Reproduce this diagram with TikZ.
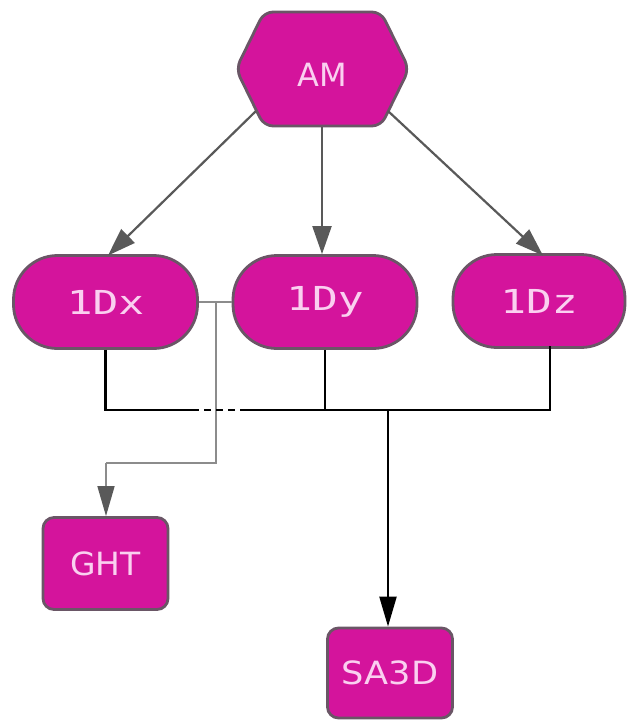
\documentclass[tikz,border=0pt]{standalone}
\usepackage{fontspec}
\setmainfont{DejaVu Sans}
\newfontfamily\monof{DejaVu Sans Mono}
\usetikzlibrary{arrows.meta}
\definecolor{mag}{HTML}{D4149C}
\definecolor{bord}{HTML}{6A5666}
\definecolor{txt}{HTML}{FAD0F0}
\definecolor{garr}{HTML}{595959}
\definecolor{gthin}{HTML}{8C8C8C}
\newcommand{\wtext}[2]{\scalebox{#1}[1]{#2}}
\begin{document}
\begin{tikzpicture}[x=1pt,y=-1pt,
  pill/.style={draw=bord,line width=2.8pt,fill=mag,rounded corners=44pt,minimum width=184pt,minimum height=93pt,inner sep=0pt,text=txt,font=\monof\fontsize{33}{38}\selectfont},
  boxnode/.style={draw=bord,line width=2.8pt,fill=mag,rounded corners=11pt,minimum width=125pt,minimum height=92pt,inner sep=0pt,text=txt,font=\fontsize{32}{38}\selectfont},
  grayarrow/.style={draw=garr,line width=2.2pt,-{Triangle[length=28pt,width=19pt]}},
  blackline/.style={draw=black,line width=2.2pt},
  thinline/.style={draw=gthin,line width=1.6pt}]
\useasboundingbox (0,0) rectangle (627,720);
% hexagon
\draw[draw=bord,line width=2.8pt,fill=mag,rounded corners=9pt]
  (236,69) -- (264,12) -- (381,12) -- (409,69) -- (381,126) -- (264,126) -- cycle;
\node[text=txt,font=\fontsize{32}{38}\selectfont] (AM) at (322,75) {AM};
\coordinate (AMl) at (256,111);
\coordinate (AMb) at (322,127);
\coordinate (AMr) at (388,111);
% nodes
\node[pill] (X) at (105.5,302) {\wtext{1.3}{1Dx}};
\node[pill] (Y) at (325,302) {\wtext{1.3}{1Dy}};
\node[pill,minimum width=172pt] (Z) at (539,301) {\wtext{1.3}{1Dz}};
\node[boxnode] (GHT) at (105.5,563.5) {\wtext{1.03}{GHT}};
\node[boxnode,minimum height=90pt] (SA) at (390,673) {\wtext{1.1}{SA3D}};
% arrows from AM
\draw[grayarrow] (AMl) -- (108,255.5);
\draw[grayarrow] (AMb) -- (AMb |- Y.north);
\draw[grayarrow] (AMr) -- (543,255.5);
% thin gray connector
\coordinate (J) at (216,302);
\coordinate (Jb) at (216,463);
\draw[thinline] (X.east) -- (Y.west);
\draw[thinline] (J) -- (Jb) -- (106,463) coordinate (Gk);
\draw[thinline,-{Triangle[length=30pt,width=17pt,color=garr]}] (Gk) -- (Gk |- GHT.north);
% black collector
\coordinate (Xb) at (105.5,410);
\coordinate (Zb) at (550,410);
\coordinate (D1) at (192,410);
\coordinate (D2) at (243,410);
\coordinate (S) at (388,410);
\draw[blackline] (X.south) -- (Xb) -- (D1);
\draw[blackline,dash pattern=on 7pt off 5pt] (D1) -- (D2);
\draw[blackline] (D2) -- (Zb) -- (550,346) coordinate (Zs);
\draw[blackline] (Y.south) -- (Y.south |- Xb);
\draw[blackline,-{Triangle[length=30pt,width=17pt]}] (S) -- (S |- SA.north);
\end{tikzpicture}
\end{document}
